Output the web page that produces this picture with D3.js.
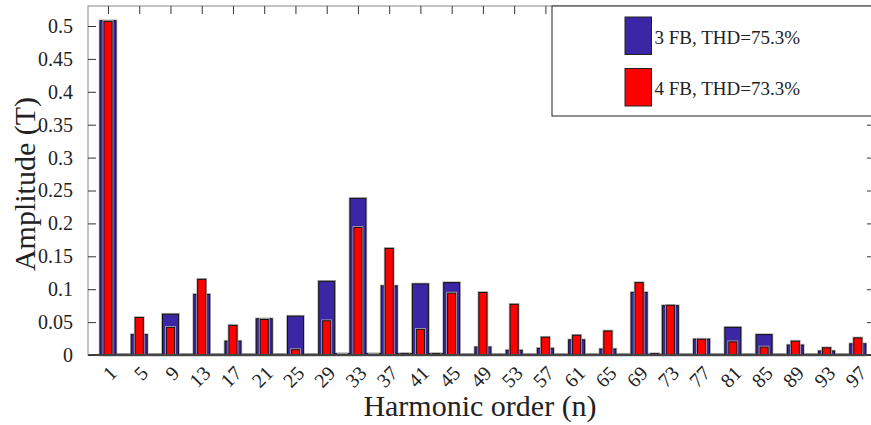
<!DOCTYPE html>
<html>
<head>
<meta charset="utf-8">
<script src="https://cdn.jsdelivr.net/npm/d3@7"></script>
<style>
  body { margin: 0; background: #fff; }
  svg text { font-family: "Liberation Serif", Tinos, "Times New Roman", serif !important; }
</style>
</head>
<body>
<div id="chart"></div>
<script>
// harmonic orders (odd only)
const harmonics = [1, 3, 5, 7, 9, 11, 13, 15, 17, 19, 21, 23, 25, 27, 29, 31, 33, 35, 37, 39,
  41, 43, 45, 47, 49, 51, 53, 55, 57, 59, 61, 63, 65, 67, 69, 71, 73, 75, 77, 79,
  81, 83, 85, 87, 89, 91, 93, 95, 97]

// 3 FB
const fb3 = [0.508, 0.001, 0.031, 0.001, 0.062, 0.001, 0.092, 0.001, 0.021, 0.001,
  0.055, 0.001, 0.059, 0.001, 0.112, 0.002, 0.238, 0.002, 0.105, 0.002,
  0.108, 0.002, 0.110, 0.001, 0.012, 0.001, 0.007, 0.001, 0.010, 0.001,
  0.023, 0.001, 0.009, 0.001, 0.095, 0.001, 0.075, 0.001, 0.024, 0.001,
  0.042, 0.001, 0.031, 0.001, 0.015, 0.001, 0.006, 0.001, 0.017]

// 4 FB
const fb4 = [0.507, 0.001, 0.057, 0.001, 0.042, 0.001, 0.115, 0.001, 0.045, 0.001,
  0.054, 0.001, 0.008, 0.001, 0.052, 0.001, 0.194, 0.001, 0.162, 0.002,
  0.039, 0.002, 0.094, 0.001, 0.095, 0.001, 0.077, 0.001, 0.027, 0.001,
  0.030, 0.001, 0.0365, 0.001, 0.110, 0.002, 0.0755, 0.001, 0.024, 0.001,
  0.020, 0.001, 0.012, 0.001, 0.021, 0.001, 0.011, 0.001, 0.026]

const xTicks = [1, 5, 9, 13, 17, 21, 25, 29, 33, 37, 41, 45, 49, 53, 57, 61, 65, 69, 73, 77, 81, 85, 89, 93, 97]
const yTicks = [0, 0.05, 0.1, 0.15, 0.2, 0.25, 0.3, 0.35, 0.4, 0.45, 0.5]
const legendLabels = ['3 FB, THD=75.3%', '4 FB, THD=73.3%']
const colors = ['#3b27a6', '#ff0000']

const font = '"Liberation Serif", Tinos, "Times New Roman", serif'
const dim = { width: 871, height: 425, left: 88, right: 875, top: 6, bottom: 355 }

const xScale = d3.scaleLinear()
    .domain([-1.56, 99.2])
    .range([dim.left, dim.right])

const yScale = d3.scaleLinear()
    .domain([0, 0.5304])
    .range([dim.bottom, dim.top])

const svg = d3.select('#chart')
    .append('svg')
    .attr('width', dim.width)
    .attr('height', dim.height)
    .attr('font-family', font)

const step = xScale(3) - xScale(1)

function drawBars(values, color, w) {
    const g = svg.append('g')
    // soft gray halo like the exported figure
    g.selectAll('rect.halo')
        .data(values)
        .join('rect')
        .attr('class', 'halo')
        .attr('x', (d, i) => xScale(harmonics[i]) - w / 2)
        .attr('y', d => yScale(d))
        .attr('width', w)
        .attr('height', d => dim.bottom - yScale(d))
        .attr('fill', 'none')
        .attr('stroke', '#b0b0b0')
        .attr('stroke-width', 2.6)
    g.selectAll('rect.bar')
        .data(values)
        .join('rect')
        .attr('class', 'bar')
        .attr('x', (d, i) => xScale(harmonics[i]) - w / 2)
        .attr('y', d => yScale(d))
        .attr('width', w)
        .attr('height', d => dim.bottom - yScale(d))
        .attr('fill', color)
        .attr('stroke', '#111')
        .attr('stroke-width', 1)
}

drawBars(fb3, colors[0], step * 1.02)
drawBars(fb4, colors[1], step * 0.52)

// baseline
svg.append('line')
    .attr('x1', dim.left).attr('x2', dim.right)
    .attr('y1', dim.bottom).attr('y2', dim.bottom)
    .attr('stroke', '#000')
    .attr('stroke-width', 2)

// box
svg.append('rect')
    .attr('x', dim.left).attr('y', dim.top)
    .attr('width', dim.right - dim.left)
    .attr('height', dim.bottom - dim.top)
    .attr('fill', 'none')
    .attr('stroke', '#888')
    .attr('stroke-width', 1)

// y axis (left, ticks inward)
const yAxis = d3.axisLeft(yScale)
    .tickValues(yTicks)
    .tickSize(-8)
    .tickPadding(15)
    .tickFormat(d => d3.format('')(+d.toFixed(2)))
const yAxisGroup = svg.append('g')
    .attr('transform', `translate(${dim.left},0)`)
    .call(yAxis)
    .attr('font-family', font)
    .attr('font-size', 20)
yAxisGroup.select('.domain').remove()
yAxisGroup.selectAll('.tick line').attr('stroke', '#333')
yAxisGroup.selectAll('.tick text')
    .attr('fill', '#222')

// right ticks
const yRight = svg.append('g')
    .attr('transform', `translate(${dim.right},0)`)
    .call(d3.axisRight(yScale).tickValues(yTicks).tickSize(-8).tickFormat(''))
yRight.select('.domain').remove()
yRight.selectAll('.tick line').attr('stroke', '#333')

// top ticks
const xTop = svg.append('g')
    .attr('transform', `translate(0,${dim.top})`)
    .call(d3.axisTop(xScale).tickValues(xTicks).tickSize(-8).tickFormat(''))
xTop.select('.domain').remove()
xTop.selectAll('.tick line').attr('stroke', '#333')

// bottom tick labels, rotated
svg.append('g')
    .selectAll('text')
    .data(xTicks)
    .join('text')
    .attr('transform', d => `translate(${xScale(d) + 10},374.5) rotate(-45)`)
    .attr('text-anchor', 'end')
    .attr('fill', '#222')
    .attr('font-size', 20)
    .text(d => d)

// axis labels
svg.append('text')
    .attr('x', 480)
    .attr('y', 416)
    .attr('text-anchor', 'middle')
    .attr('fill', '#222')
    .attr('font-size', 30)
    .text('Harmonic order (n)')

svg.append('text')
    .attr('transform', 'translate(35,184) rotate(-90)')
    .attr('text-anchor', 'middle')
    .attr('fill', '#222')
    .attr('font-size', 30)
    .text('Amplitude (T)')

// legend
const legend = svg.append('g')
legend.append('rect')
    .attr('x', 552).attr('y', dim.top)
    .attr('width', 330).attr('height', 110)
    .attr('fill', '#fff')
    .attr('stroke', '#222')
    .attr('stroke-width', 1)

const legendItems = legend.selectAll('g.item')
    .data(legendLabels)
    .join('g')
    .attr('class', 'item')
    .attr('transform', (d, i) => `translate(625,${17 + i * 51.5})`)
legendItems.append('rect')
    .attr('width', 26.5).attr('height', 37.5)
    .attr('fill', (d, i) => colors[i])
    .attr('stroke', '#222')
    .attr('stroke-width', 1)
legendItems.append('text')
    .attr('x', 29.5).attr('y', 26.5)
    .attr('fill', '#222')
    .attr('font-size', 19)
    .text(d => d)
</script>
</body>
</html>
